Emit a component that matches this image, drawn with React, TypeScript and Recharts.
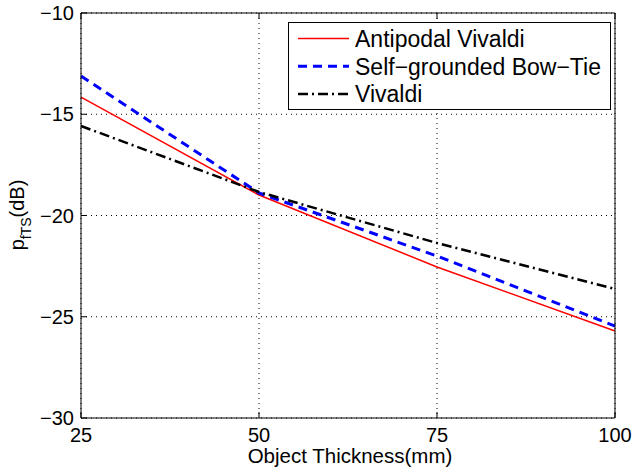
import { CartesianGrid, Line, LineChart, XAxis, YAxis } from "recharts";

// Object thickness (mm) vs p_fTS (dB)
const thickness = [25, 50, 75, 100];
const antipodalVivaldi = [-14.15, -18.99, -22.54, -25.7];
const bowTie = [-13.11, -18.89, -22.0, -25.46];
const vivaldi = [-15.58, -18.84, -21.36, -23.63];

const xTicks = [25, 50, 75, 100];
const yTicks = [-30, -25, -20, -15, -10];

const FONT = "'Liberation Sans', Arial, Helvetica, sans-serif";
const TICK_LEN = 6;

const data = thickness.map((t, i) => ({
  t,
  antipodal: antipodalVivaldi[i],
  bowtie: bowTie[i],
  vivaldi: vivaldi[i],
}));

const SERIES = [
  { key: "antipodal", label: "Antipodal Vivaldi", color: "#ff0000", width: 1.5, dash: undefined },
  { key: "bowtie", label: "Self\u2212grounded Bow\u2212Tie", color: "#0000ff", width: 3, dash: "9 6" },
  { key: "vivaldi", label: "Vivaldi", color: "#000000", width: 2.5, dash: "10 4 2 4" },
] as const;

const fmt = (v: number) => String(v).replace("-", "\u2212");

// MATLAB-style ticks: drawn inward, labels outside
function BottomTick({ x, y, payload }: any) {
  return (
    <g>
      <line x1={x} y1={y} x2={x} y2={y - TICK_LEN} stroke="#000" />
      <text x={x} y={y} dy={24} textAnchor="middle" fontSize={20} fontFamily={FONT} fill="#000">
        {payload.value}
      </text>
    </g>
  );
}

function TopTick({ x, y }: any) {
  return <line x1={x} y1={y} x2={x} y2={y + TICK_LEN} stroke="#000" />;
}

function LeftTick({ x, y, payload }: any) {
  return (
    <g>
      <line x1={x} y1={y} x2={x + TICK_LEN} y2={y} stroke="#000" />
      <text x={x - 7} y={y} dy={7} textAnchor="end" fontSize={20} fontFamily={FONT} fill="#000">
        {fmt(payload.value)}
      </text>
    </g>
  );
}

function RightTick({ x, y }: any) {
  return <line x1={x} y1={y} x2={x - TICK_LEN} y2={y} stroke="#000" />;
}

// legend drawn as an overlay so it doesn't eat plot space
function LegendBox() {
  return (
    <div
      style={{
        position: "absolute",
        left: 288,
        top: 22,
        border: "1px solid #000",
        background: "#fff",
        width: 321,
        height: 86,
      }}
    >
      <svg width={321} height={86} style={{ display: "block" }}>
        {SERIES.map((s, i) => {
          const cy = 15.5 + i * 27.7;
          return (
            <g key={s.key}>
              <line
                x1={9}
                x2={60}
                y1={cy}
                y2={cy}
                stroke={s.color}
                strokeWidth={s.width}
                strokeDasharray={s.dash}
              />
              <text x={66} y={cy} dy={8.5} fontSize={23} fontFamily={FONT} fill="#000">
                {s.label}
              </text>
            </g>
          );
        })}
      </svg>
    </div>
  );
}

export default function App() {
  return (
    <div style={{ position: "absolute", left: 0, top: 0, width: 632, height: 470, background: "#fff" }}>
      <LineChart width={632} height={470} data={data} margin={{ top: 0, right: 0, bottom: 0, left: 0 }}>
        <CartesianGrid xAxisId="b" yAxisId="l" stroke="#000" strokeDasharray="1 4" />
        <XAxis
          xAxisId="b"
          dataKey="t"
          type="number"
          domain={[25, 100]}
          ticks={xTicks}
          height={52}
          tickSize={0}
          tickMargin={0}
          tickLine={false}
          tick={<BottomTick />}
          axisLine={{ stroke: "#000" }}
          label={{
            content: () => (
              <text x={350} y={463} textAnchor="middle" fontSize={20.5} fontFamily={FONT} fill="#000">
                Object Thickness(mm)
              </text>
            ),
          }}
        />
        <XAxis
          xAxisId="t"
          orientation="top"
          dataKey="t"
          type="number"
          domain={[25, 100]}
          ticks={xTicks}
          height={13}
          tickSize={0}
          tickMargin={0}
          tickLine={false}
          tick={<TopTick />}
          axisLine={{ stroke: "#000" }}
        />
        <YAxis
          yAxisId="l"
          type="number"
          domain={[-30, -10]}
          ticks={yTicks}
          width={81}
          tickSize={0}
          tickMargin={0}
          tickLine={false}
          tick={<LeftTick />}
          axisLine={{ stroke: "#000" }}
          label={{
            content: () => (
              <text
                x={24}
                y={215}
                transform="rotate(-90, 24, 215)"
                textAnchor="middle"
                fontSize={20}
                fontFamily={FONT}
                fill="#000"
              >
                p
                <tspan dy={7} fontSize={14}>
                  fTS
                </tspan>
                <tspan dy={-7}>(dB)</tspan>
              </text>
            ),
          }}
        />
        <YAxis
          yAxisId="r"
          orientation="right"
          type="number"
          domain={[-30, -10]}
          ticks={yTicks}
          width={17}
          tickSize={0}
          tickMargin={0}
          tickLine={false}
          tick={<RightTick />}
          axisLine={{ stroke: "#000" }}
        />
        {SERIES.map((s) => (
          <Line
            key={s.key}
            xAxisId="b"
            yAxisId="l"
            type="linear"
            dataKey={s.key}
            name={s.label}
            stroke={s.color}
            strokeWidth={s.width}
            strokeDasharray={s.dash}
            dot={false}
            activeDot={false}
            isAnimationActive={false}
          />
        ))}
      </LineChart>
      <LegendBox />
    </div>
  );
}
